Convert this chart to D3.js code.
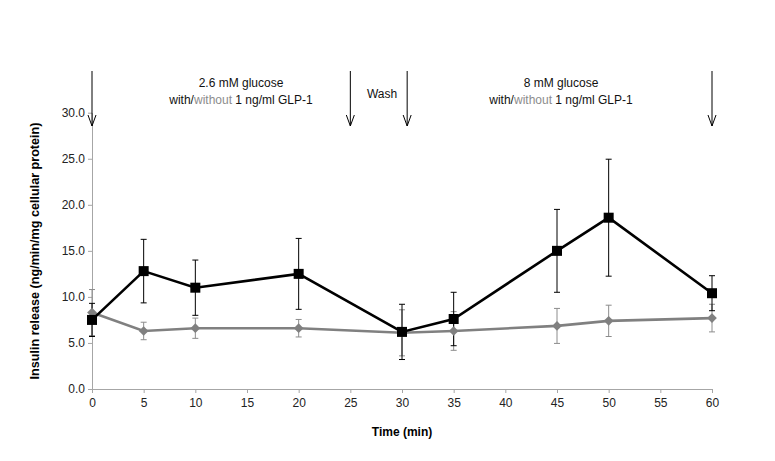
<!DOCTYPE html>
<html><head><meta charset="utf-8">
<script src="https://cdn.jsdelivr.net/npm/d3@7"></script>
<style>body{margin:0;background:#fff}svg{display:block}text{font-family:"Liberation Sans",Arial,sans-serif}</style>
</head><body><svg id="c" width="775" height="461"></svg>
<script>
const times = [0, 5, 10, 20, 30, 35, 45, 50, 60];
const withGLP = [7.5, 12.8, 11.0, 12.5, 6.2, 7.6, 15.0, 18.6, 10.4];
const withErr = [1.8, 3.45, 3.0, 3.85, 3.0, 2.9, 4.5, 6.35, 1.9];
const withoutGLP = [8.3, 6.3, 6.6, 6.6, 6.1, 6.3, 6.85, 7.4, 7.7];
const withoutErr = [2.5, 0.95, 1.1, 0.95, 2.5, 2.1, 1.9, 1.7, 1.5];
const xTicks = d3.range(0, 61, 5);
const yTicks = [0, 5, 10, 15, 20, 25, 30];
const arrowTimes = [0, 25, 30.5, 60];

const svg = d3.select("#c");
const x = d3.scaleLinear().domain([0, 60]).range([92, 712]);
const y = d3.scaleLinear().domain([0, 30]).range([389, 112.7]);

// axes
const xAxis = svg.append("g").attr("transform", "translate(0,389)")
  .call(d3.axisBottom(x).tickValues(xTicks).tickSize(4).tickSizeOuter(0).tickFormat(d3.format("d")));
xAxis.selectAll("path,line").attr("stroke", "#a6a6a6");
xAxis.selectAll("text").attr("fill", "#222").attr("font-size", 12).attr("dy", "0.95em")
  .style("font-family", '"Liberation Sans Narrow","Liberation Sans",Arial,sans-serif');

const yAxis = svg.append("g").attr("transform", "translate(92,0)")
  .call(d3.axisLeft(y).tickValues(yTicks).tickSize(4).tickSizeOuter(0).tickFormat(d3.format(".1f")));
yAxis.selectAll("path,line").attr("stroke", "#a6a6a6");
yAxis.selectAll("text").attr("fill", "#222").attr("font-size", 12);

// error bars
function errBars(vals, errs, color) {
  const g = svg.append("g").attr("stroke", color).attr("stroke-width", 1);
  times.forEach((t, i) => {
    const cx = x(t), hi = y(vals[i] + errs[i]), lo = y(vals[i] - errs[i]);
    g.append("line").attr("x1", cx).attr("x2", cx).attr("y1", hi).attr("y2", lo);
    g.append("line").attr("x1", cx - 3).attr("x2", cx + 3).attr("y1", hi).attr("y2", hi);
    g.append("line").attr("x1", cx - 3).attr("x2", cx + 3).attr("y1", lo).attr("y2", lo);
  });
}
errBars(withoutGLP, withoutErr, "#8c8c8c");
errBars(withGLP, withErr, "#000");

const line = d3.line().x((d, i) => x(times[i])).y(d => y(d));
svg.append("path").datum(withoutGLP).attr("d", line).attr("fill", "none")
  .attr("stroke", "#808080").attr("stroke-width", 2.6);
svg.append("path").datum(withGLP).attr("d", line).attr("fill", "none")
  .attr("stroke", "#000").attr("stroke-width", 2.6);

svg.append("g").selectAll("path").data(withoutGLP).join("path")
  .attr("d", d3.symbol().type(d3.symbolDiamond2).size(60))
  .attr("transform", (d, i) => `translate(${x(times[i])},${y(d)})`).attr("fill", "#808080");
svg.append("g").selectAll("rect").data(withGLP).join("rect")
  .attr("x", (d, i) => x(times[i]) - 5).attr("y", d => y(d) - 5)
  .attr("width", 10).attr("height", 10).attr("fill", "#000");

// arrows
const ag = svg.append("g").attr("stroke", "#000").attr("stroke-width", 1).attr("fill", "none");
arrowTimes.forEach(t => {
  const ax = x(t);
  ag.append("line").attr("x1", ax).attr("x2", ax).attr("y1", 71).attr("y2", 126);
  ag.append("path").attr("d", `M${ax - 4},${115} L${ax},${126} L${ax + 4},${115}`);
});

// annotations
function note(cx, l1, yy) {
  svg.append("text").attr("x", cx).attr("y", yy).attr("text-anchor", "middle")
    .attr("font-size", 12).attr("fill", "#111").text(l1);
  const t = svg.append("text").attr("x", cx).attr("y", yy + 17).attr("text-anchor", "middle")
    .attr("font-size", 12).attr("fill", "#111");
  t.append("tspan").text("with/");
  t.append("tspan").attr("fill", "#8c8c8c").text("without");
  t.append("tspan").text(" 1 ng/ml GLP-1");
}
note(241, "2.6 mM glucose", 87);
note(561, "8 mM glucose", 87);
svg.append("text").attr("x", 382).attr("y", 98).attr("text-anchor", "middle")
  .attr("font-size", 12).attr("fill", "#111").text("Wash");

// titles
svg.append("text").attr("x", 402).attr("y", 436).attr("text-anchor", "middle")
  .attr("font-size", 12).attr("font-weight", "bold")
  .style("font-family", '"Liberation Sans Narrow","Liberation Sans",Arial,sans-serif')
  .text("Time (min)");
svg.append("text").attr("transform", "translate(39,251) rotate(-90)").attr("text-anchor", "middle")
  .attr("font-size", 12.6).attr("font-weight", "bold").text("Insulin release (ng/min/mg cellular protein)");
</script></body></html>
